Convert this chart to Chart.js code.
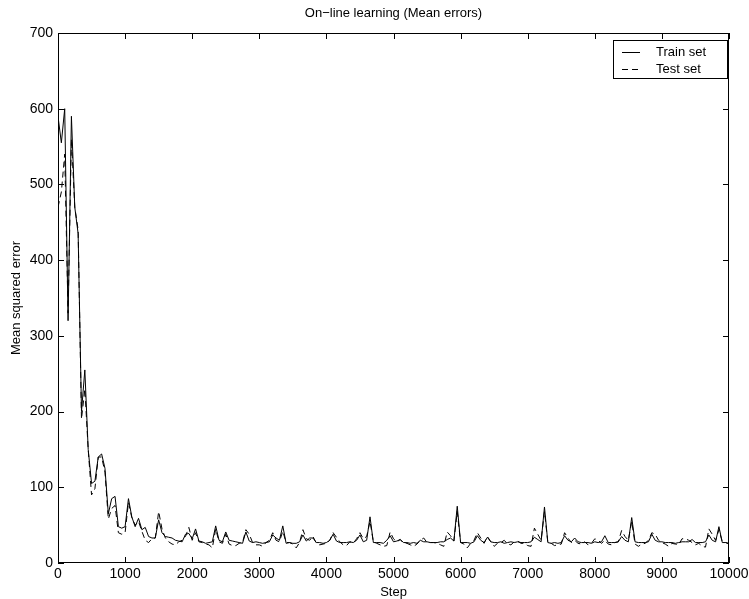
<!DOCTYPE html>
<html>
<head>
<meta charset="utf-8">
<script src="https://cdn.jsdelivr.net/npm/chart.js@4"></script>
<style>
  body { margin: 0; background: #fff; }
  #wrap { width: 749px; height: 599px; }
</style>
</head>
<body>
<div id="wrap"><canvas id="errChart" width="749" height="599"></canvas></div>
<script>
// step numbers (x), read every 50 steps
const steps = [
  0, 50, 100, 150, 200, 250, 300, 350, 400, 450,
  500, 550, 600, 650, 700, 750, 800, 850, 900, 950,
  1000, 1050, 1100, 1150, 1200, 1250, 1300, 1350, 1400, 1450,
  1500, 1550, 1600, 1650, 1700, 1750, 1800, 1850, 1900, 1950,
  2000, 2050, 2100, 2150, 2200, 2250, 2300, 2350, 2400, 2450,
  2500, 2550, 2600, 2650, 2700, 2750, 2800, 2850, 2900, 2950,
  3000, 3050, 3100, 3150, 3200, 3250, 3300, 3350, 3400, 3450,
  3500, 3550, 3600, 3650, 3700, 3750, 3800, 3850, 3900, 3950,
  4000, 4050, 4100, 4150, 4200, 4250, 4300, 4350, 4400, 4450,
  4500, 4550, 4600, 4650, 4700, 4750, 4800, 4850, 4900, 4950,
  5000, 5050, 5100, 5150, 5200, 5250, 5300, 5350, 5400, 5450,
  5500, 5550, 5600, 5650, 5700, 5750, 5800, 5850, 5900, 5950,
  6000, 6050, 6100, 6150, 6200, 6250, 6300, 6350, 6400, 6450,
  6500, 6550, 6600, 6650, 6700, 6750, 6800, 6850, 6900, 6950,
  7000, 7050, 7100, 7150, 7200, 7250, 7300, 7350, 7400, 7450,
  7500, 7550, 7600, 7650, 7700, 7750, 7800, 7850, 7900, 7950,
  8000, 8050, 8100, 8150, 8200, 8250, 8300, 8350, 8400, 8450,
  8500, 8550, 8600, 8650, 8700, 8750, 8800, 8850, 8900, 8950,
  9000, 9050, 9100, 9150, 9200, 9250, 9300, 9350, 9400, 9450,
  9500, 9550, 9600, 9650, 9700, 9750, 9800, 9850, 9900, 9950,
  10000
];

const trainErr = [
  590, 555, 600, 320, 590, 470, 435, 200, 255, 150,
  105, 108, 140, 144, 125, 65, 85, 88, 48, 46,
  48, 85, 61, 48, 59, 44, 47, 35, 33, 33,
  57, 40, 35, 34, 33, 30, 29, 28, 38, 39,
  32, 45, 29, 28, 26, 27, 28, 49, 30, 28,
  41, 30, 29, 28, 27, 26, 41, 29, 27, 28,
  27, 26, 27, 28, 37, 33, 30, 49, 26, 27,
  26, 26, 28, 37, 29, 33, 33, 27, 27, 26,
  27, 30, 38, 29, 27, 27, 27, 28, 27, 30,
  37, 28, 30, 61, 27, 27, 27, 26, 30, 36,
  28, 29, 31, 27, 27, 26, 27, 26, 30, 28,
  28, 27, 27, 27, 28, 28, 31, 33, 29, 75,
  27, 27, 27, 26, 28, 36, 30, 27, 34, 28,
  27, 27, 28, 26, 27, 28, 27, 28, 27, 27,
  27, 28, 34, 31, 28, 74, 27, 26, 27, 26,
  27, 36, 30, 28, 33, 28, 27, 27, 27, 26,
  28, 27, 28, 36, 27, 27, 27, 28, 35, 30,
  28, 60, 28, 27, 27, 27, 28, 38, 30, 28,
  28, 27, 27, 27, 26, 27, 28, 28, 28, 31,
  27, 27, 27, 28, 37, 30, 28, 48, 27, 27,
  25
];

const testErr = [
  470, 490, 540, 330, 560, 470, 440, 190, 230, 150,
  90, 98, 140, 140, 120, 58, 72, 76, 40, 38,
  40, 80, 60, 50, 55, 42, 30, 27, 32, 33,
  68, 45, 33, 28, 25, 24, 28, 30, 35, 47,
  30, 40, 28, 27, 25, 24, 20, 45, 28, 26,
  38, 25, 23, 23, 26, 27, 44, 38, 27, 24,
  24, 22, 27, 30, 40, 30, 28, 42, 27, 27,
  25, 20, 27, 44, 32, 30, 35, 26, 24, 25,
  26, 30, 40, 34, 28, 24, 23, 28, 26, 32,
  40, 32, 35, 55, 28, 26, 24, 22, 23, 41,
  32, 28, 31, 26, 26, 24, 22, 25, 30, 33,
  27, 27, 27, 26, 24, 22, 41, 36, 29, 68,
  27, 25, 20, 26, 30, 40, 33, 26, 35, 28,
  22, 26, 27, 30, 25, 24, 28, 29, 26, 26,
  23, 22, 46, 38, 30, 68, 27, 26, 23, 24,
  25, 40, 33, 27, 30, 26, 25, 28, 24, 26,
  32, 30, 26, 30, 25, 24, 27, 28, 43, 35,
  30, 55, 25, 22, 25, 26, 30, 40, 38, 30,
  27, 25, 22, 26, 25, 24, 32, 32, 30, 27,
  24, 26, 22, 21, 45, 38, 30, 44, 28, 27,
  26
];

const xTicks = [0, 1000, 2000, 3000, 4000, 5000, 6000, 7000, 8000, 9000, 10000];
const yTicks = [0, 100, 200, 300, 400, 500, 600, 700];

const FONT = '"Liberation Sans", Arial, Helvetica, sans-serif';

// matlab style box, inward ticks, title and legend
const matlabFrame = {
  id: 'matlabFrame',
  afterDatasetsDraw(chart) {
    const ctx = chart.ctx;
    const a = chart.chartArea;
    const x = chart.scales.x, y = chart.scales.y;
    const tl = 6;
    ctx.save();
    ctx.strokeStyle = '#000';
    ctx.lineWidth = 1;
    ctx.setLineDash([]);
    ctx.strokeRect(a.left + 0.5, a.top + 0.5, a.right - a.left - 1, a.bottom - a.top - 1);
    ctx.beginPath();
    xTicks.forEach(v => {
      const px = Math.round(x.getPixelForValue(v)) + 0.5;
      ctx.moveTo(px, a.bottom); ctx.lineTo(px, a.bottom - tl);
      ctx.moveTo(px, a.top); ctx.lineTo(px, a.top + tl);
    });
    yTicks.forEach(v => {
      const py = Math.round(y.getPixelForValue(v)) + 0.5;
      ctx.moveTo(a.left, py); ctx.lineTo(a.left + tl, py);
      ctx.moveTo(a.right, py); ctx.lineTo(a.right - tl, py);
    });
    ctx.stroke();

    // title
    ctx.fillStyle = '#000';
    ctx.font = '13px ' + FONT;
    ctx.textAlign = 'center';
    ctx.textBaseline = 'middle';
    ctx.fillText('On\u2212line learning (Mean errors)', (a.left + a.right) / 2, 13);

    // legend
    const lx = 613, ly = 40, lw = 114, lh = 38;
    ctx.fillStyle = '#fff';
    ctx.fillRect(lx, ly, lw, lh);
    ctx.strokeRect(lx + 0.5, ly + 0.5, lw, lh);
    ctx.textAlign = 'left';
    ctx.fillStyle = '#000';
    chart.data.datasets.forEach((ds, i) => {
      const yy = ly + 12.5 + i * 17;
      ctx.beginPath();
      ctx.setLineDash(ds.borderDash || []);
      ctx.moveTo(622, yy); ctx.lineTo(640, yy);
      ctx.stroke();
      ctx.setLineDash([]);
      ctx.fillText(ds.label, 656, yy);
    });
    ctx.restore();
  }
};

new Chart(document.getElementById('errChart'), {
  type: 'line',
  data: {
    labels: steps,
    datasets: [{
      label: 'Train set',
      data: trainErr,
      borderColor: '#000',
      borderWidth: 1,
      pointRadius: 0,
      tension: 0
    }, {
      label: 'Test set',
      data: testErr,
      borderColor: '#000',
      borderWidth: 1,
      borderDash: [6, 4],
      pointRadius: 0,
      tension: 0
    }]
  },
  options: {
    responsive: false,
    animation: false,
    events: [],
    layout: { padding: { top: 33, right: 20, left: 0, bottom: 0 } },
    plugins: {
      legend: { display: false },
      title: { display: false },
      tooltip: { enabled: false }
    },
    scales: {
      x: {
        type: 'linear',
        min: 0, max: 10000,
        afterFit: s => { s.height = 36; s.paddingLeft = 0; s.paddingRight = 0; },
        afterBuildTicks: s => { s.ticks = xTicks.map(v => ({ value: v })); },
        grid: { display: false, drawTicks: false },
        border: { display: false },
        ticks: { color: '#000', font: { family: FONT, size: 14 }, padding: 3, maxRotation: 0, autoSkip: false,
                 callback: v => String(v) },
        title: { display: true, text: 'Step', color: '#000', font: { family: FONT, size: 13, lineHeight: 1 }, padding: { top: 0, bottom: 0 } }
      },
      y: {
        min: 0, max: 700,
        afterFit: s => { s.width = 58; s.paddingTop = 0; s.paddingBottom = 0; },
        afterBuildTicks: s => { s.ticks = yTicks.map(v => ({ value: v })); },
        grid: { display: false, drawTicks: false },
        border: { display: false },
        ticks: { color: '#000', font: { family: FONT, size: 14 }, padding: 5, callback: v => String(v) },
        title: { display: true, text: 'Mean squared error', color: '#000', font: { family: FONT, size: 13 }, padding: { top: 9, bottom: 0 } }
      }
    }
  },
  plugins: [matlabFrame]
});
</script>
</body>
</html>
